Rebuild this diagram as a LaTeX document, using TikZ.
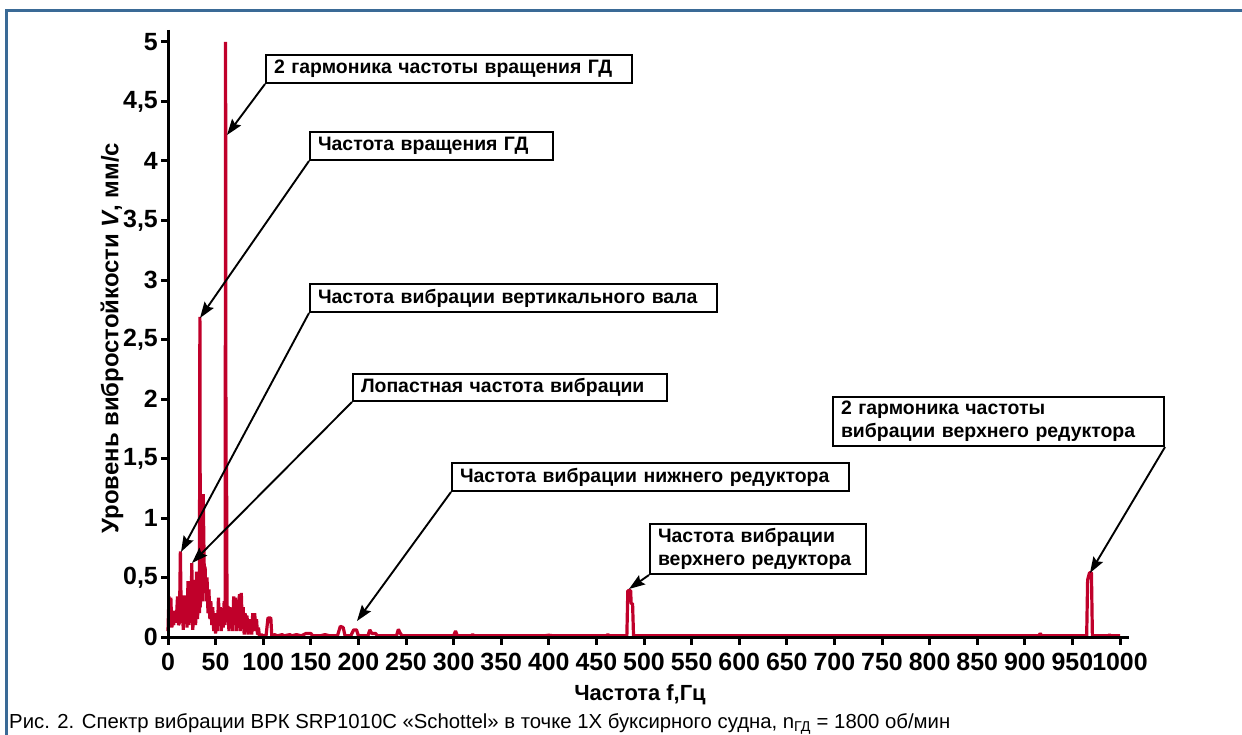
\documentclass[tikz,border=0pt]{standalone}
\usepackage{fontspec}
\setmainfont{Liberation Sans}
\usetikzlibrary{arrows.meta}
\definecolor{spec}{HTML}{C0002A}
\definecolor{framec}{HTML}{3A6A96}
\begin{document}
\begin{tikzpicture}[x=1bp,y=-1bp,
  callout/.style={draw=black, line width=2bp, fill=white,
    font=\fontsize{19.5}{23.5}\selectfont\bfseries, inner xsep=8bp, inner ysep=0bp,
    align=left},
  pointer/.style={line width=1.9bp, -{Stealth[length=16bp,width=11bp,inset=2.5bp]}},
  axisline/.style={line width=3bp},
  xtick/.style={font=\fontsize{25}{25}\selectfont\bfseries, inner sep=0pt},
  ytick/.style={font=\fontsize{25}{25}\selectfont\bfseries, anchor=east, inner sep=0pt},
  axlabel/.style={font=\fontsize{24}{24}\selectfont\bfseries, inner sep=0pt}]
\useasboundingbox (0,0) rectangle (1242,735);
% frame
\draw[framec, line width=2.4bp] (6.5,735) -- (6.5,10.5) -- (1242,10.5);
% spectrum
\begin{scope}[shift={(168,637)}, x=0.952bp, y=119bp]
\draw[spec, line width=3.2bp, line join=bevel] plot coordinates {
(0,0.05)(1,0.34)(2,0.12)(3,0.33)(4,0.08)(5,0.15)(6,0.10)(7,0.22)(8,0.12)(9,0.18)
(10,0.34)(11,0.10)(12,0.12)(13,0.72)(14,0.12)(15,0.28)(16,0.06)(17,0.35)(18,0.15)(19,0.22)
(20,0.08)(21,0.47)(22,0.10)(23,0.30)(24,0.12)(25,0.62)(26,0.06)(27,0.20)(28,0.48)(29,0.10)
(30,0.55)(31,0.15)(32,0.38)(33,0.2)(33.5,2.69)(34,0.25)(35,1.2)(36,0.3)(37,1.2)(38,0.6)
(39,0.58)(40,0.3)(41,0.5)(42,0.2)(43,0.4)(44,0.15)(45,0.3)(46,0.1)(47,0.25)(48,0.05)
(49,0.12)(50,0.03)(51,0.2)(52,0.05)(53,0.33)(54,0.1)(55,0.25)(56,0.05)(57,0.2)(58,0.08)
(59,0.3)(60,0.1)(60.5,5.0)(61,0.3)(61.5,1.45)(62,0.2)(63,0.26)(64,0.05)(65,0.25)(66,0.1)
(67,0.2)(68,0.05)(69,0.34)(70,0.1)(71,0.33)(72,0.05)(73,0.3)(74,0.1)(75,0.36)(76,0.05)
(77,0.37)(78,0.1)(79,0.25)(80,0.02)(81,0.2)(82,0.05)(83,0.18)(84,0.02)(85,0.12)(86,0.03)
(87,0.15)(88,0.02)(89,0.2)(90,0.05)(91,0.2)(92,0.1)(93,0.15)(94,0.02)(95,0.08)(96,0.01)
(98,0.02)(100,0.01)(103,0.01)(105,0.16)(108,0.16)(109,0.01)(112,0.02)(115,0.01)(120,0.02)
(122,0.01)(128,0.02)(130,0.01)(135,0.02)(140,0.01)(145,0.03)(150,0.03)(152,0.01)(160,0.01)
(165,0.02)(170,0.01)(178,0.01)(181,0.09)(184,0.08)(186,0.01)(192,0.01)(195,0.06)(198,0.06)
(200,0.01)(210,0.01)(212,0.06)(214,0.03)(218,0.03)(220,0.01)(240,0.01)(242,0.065)(244,0.03)
(246,0.01)(300,0.01)(302,0.05)(304,0.01)(318,0.01)(320,0.02)(322,0.01)(395,0.01)(400,0.015)
(405,0.01)(460,0.01)(462,0.02)(464,0.01)(482,0.01)(483,0.39)(486,0.39)(486.5,0.28)(488,0.28)
(489,0.01)(915,0.01)(916,0.03)(918,0.01)(965,0.01)(966,0.48)(968,0.54)(970,0.54)(971,0.01)
(988,0.01)(989,0.02)(990,0.01)(1000,0.01)};
\end{scope}
% axes
\draw[axisline] (168,30) -- (168,637) -- (1129,637);
\foreach \i in {0,...,10} {
  \draw[axisline] (161,{637-59.5*\i}) -- (168,{637-59.5*\i});
}
\node[ytick] (y0)  at (158,637) {0};
\node[ytick] (y1)  at (158,577.5) {0,5};
\node[ytick] (y2)  at (158,518) {1};
\node[ytick] (y3)  at (158,458.5) {1,5};
\node[ytick] (y4)  at (158,399) {2};
\node[ytick] (y5)  at (158,339.5) {2,5};
\node[ytick] (y6)  at (158,280) {3};
\node[ytick] (y7)  at (158,220.5) {3,5};
\node[ytick] (y8)  at (158,161) {4};
\node[ytick] (y9)  at (158,101.5) {4,5};
\node[ytick] (y10) at (158,42) {5};
\foreach \f in {0,50,...,1000} {
  \draw[axisline] ({168+0.952*\f},637) -- ({168+0.952*\f},645);
  \node[xtick] (x\f) at ({168+0.952*\f},662) {\f};
}
\node[axlabel, rotate=90] (ylab) at (112,338) {Уровень вибростойкости \textit{V}, мм/с};
\node[axlabel, font=\fontsize{22}{22}\selectfont\bfseries] (xlab) at (640,695) {Частота f,Гц};
% callouts
\node[callout, minimum width=366bp, minimum height=28bp, text width=350bp] (b1) at (449,69) {2 гармоника частоты вращения ГД};
\node[callout, minimum width=243bp, minimum height=28bp, text width=227bp] (b2) at (431.5,146) {Частота вращения ГД};
\node[callout, minimum width=407bp, minimum height=28bp, text width=391bp] (b3) at (513.5,298) {Частота вибрации вертикального вала};
\node[callout, minimum width=314bp, minimum height=27bp, text width=298bp] (b4) at (510,387.5) {Лопастная частота вибрации};
\node[callout, minimum width=397bp, minimum height=28bp, text width=381bp] (b5) at (650.5,477) {Частота вибрации нижнего редуктора};
\node[callout, minimum width=216bp, minimum height=50bp, text width=200bp] (b6) at (758,549) {Частота вибрации\\верхнего редуктора};
\node[callout, minimum width=331bp, minimum height=49bp, text width=315bp] (b7) at (998.5,421.5) {2 гармоника частоты\\вибрации верхнего редуктора};
\coordinate (t1) at (227,135);
\coordinate (t2) at (200,318);
\coordinate (t3) at (181,552);
\coordinate (t4) at (192,563);
\coordinate (t5) at (357,621);
\coordinate (t6) at (629,589);
\coordinate (t7) at (1090,573);
\draw[pointer] (b1.south west) -- (t1);
\draw[pointer] (b2.south west) -- (t2);
\draw[pointer] (b3.south west) -- (t3);
\draw[pointer] (b4.south west) -- (t4);
\draw[pointer] (b5.south west) -- (t5);
\draw[pointer] (b6.south west) -- (t6);
\draw[pointer] (b7.south east) -- (t7);
% caption
\node[anchor=base west, inner sep=0pt, font=\fontsize{20.4}{20.4}\selectfont] (cap) at (9,728)
  {Рис. 2. Спектр вибрации ВРК SRP1010C «Schottel» в точке 1X буксирного судна, n\textsubscript{ГД} = 1800 об/мин};
\end{tikzpicture}
\end{document}
